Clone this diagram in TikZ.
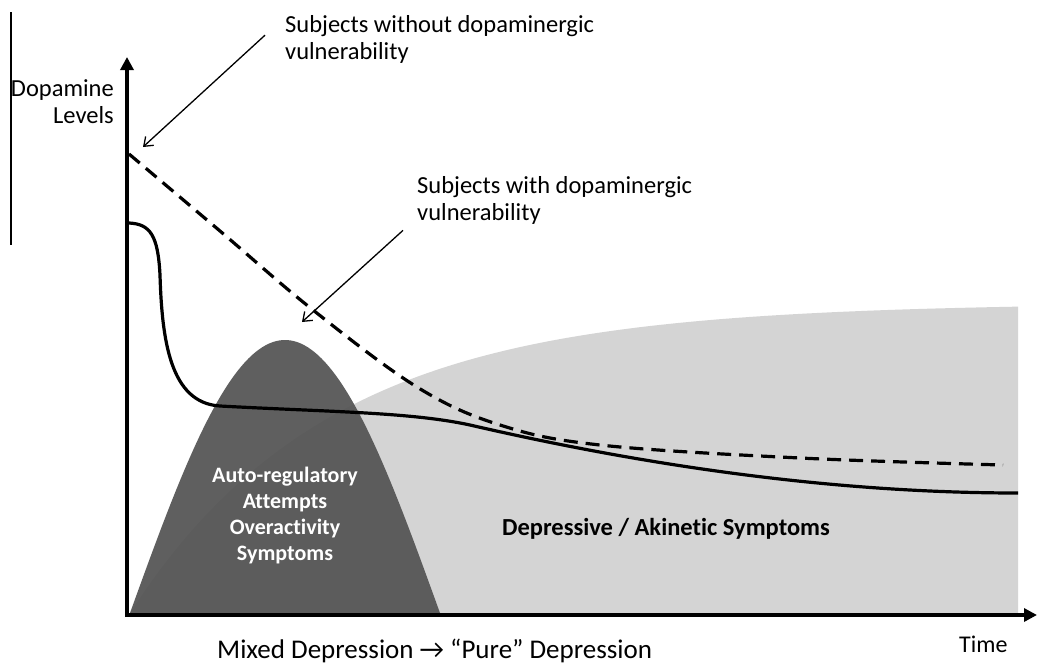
\documentclass[tikz,border=0pt]{standalone}
\usepackage{fontspec}
\setmainfont{Carlito}[Ligatures={NoCommon}]
\usetikzlibrary{arrows.meta}
\begin{document}
\begin{tikzpicture}[x=1pt,y=-1pt,
  lbl/.style={inner sep=0pt, font=\fontsize{24.5}{27}\selectfont},
  pointer/.style={line width=1.3pt, -{Straight Barb[length=8pt,width=12pt]}},
  axis/.style={line width=4.5pt, -{Triangle[length=13pt,width=13pt]}},
  curve/.style={line width=3.2pt},
  lightarea/.style={fill=black!17},
  darkarea/.style={fill=black!68, opacity=0.92},
  ]
\useasboundingbox (0,0) rectangle (1037,664);
\fill[white] (0,0) rectangle (1037,664);
% thin line at the left
\draw[line width=1.2pt] (11,12) -- (11,245);
% light region
\fill[lightarea] plot[domain=130:1018, samples=120] (\x,{613-310*(1-exp(-(\x-130)/200))}) -- (1018,613) -- cycle;
% dark hump
\fill[darkarea] plot[domain=130:440, samples=90] (\x,{613-273*sin(0.580645*(\x-130))}) -- cycle;
% axes
\coordinate (O) at (127,615);
\coordinate (Ytop) at (127,57);
\coordinate (Xend) at (1037,615);
\draw[axis] ([yshift=-2pt]O) -- (Ytop);
\draw[axis] ([xshift=-2pt]O) -- (Xend);
% curves
\draw[curve, dash pattern=on 14pt off 8pt] plot[smooth, tension=0.6] coordinates {(129,154) (220,231) (313,310) (417,387) (500,425) (600,445) (800,458) (1003,465)};
\draw[curve] (129,223) .. controls (150,224) and (158,235) .. (160,275)
  .. controls (162,340) and (170,403) .. (220,406)
  .. controls (330,412) and (410,412) .. (470,425)
  .. controls (600,455) and (800,493) .. (1018,493);
% labels
\node[lbl, align=left, anchor=north west] (without) at (285,15) {Subjects without dopaminergic\\vulnerability};
\coordinate (tipA) at (143,147);
\draw[pointer] ([shift={(-20,-4)}]without.west) -- (tipA);
\node[lbl, align=left, anchor=north west] (with) at (417,176) {Subjects with dopaminergic\\vulnerability};
\coordinate (tipB) at (302,322);
\draw[pointer] ([shift={(-14,6)}]with.south west) -- (tipB);
\node[lbl, align=right, anchor=north east] (ylabel) at (114,79) {Dopamine\\Levels};
\node[lbl, font=\fontsize{22}{26}\selectfont\bfseries, text=white, align=center] (auto) at (285,516) {Auto-regulatory\\Attempts\\Overactivity\\Symptoms};
\node[lbl, font=\fontsize{24.5}{27}\selectfont\bfseries, anchor=base] (dep) at (666,535) {Depressive / Akinetic Symptoms};
\node[lbl, font=\fontsize{27}{30}\selectfont, anchor=base west] (mixed) at (217,658) {Mixed Depression → “Pure” Depression};
\node[lbl, font=\fontsize{24}{27}\selectfont, anchor=base west] (time) at (959,652) {Time};
\end{tikzpicture}
\end{document}
